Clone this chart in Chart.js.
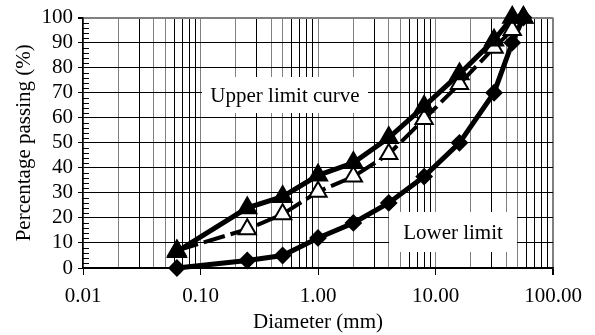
<!DOCTYPE html>
<html>
<head>
<meta charset="utf-8">
<script src="https://cdn.jsdelivr.net/npm/chart.js@4"></script>
<style>
  body { margin: 0; background: #fff; }
</style>
</head>
<body>
<canvas id="chart" width="595" height="335"></canvas>
<script>
// sieve sizes (mm) and passing percentages
const sizes = [0.063, 0.25, 0.5, 1, 2, 4, 8, 16, 31.5, 45, 56];
const upperLimit = [6.5, 24, 28.5, 37, 42, 52, 64.5, 77.5, 91, 100, 100];
const middleCurve = [7, 15.5, 21.5, 30.5, 36.5, 45.5, 59.5, 73.5, 88, 95, 100];
const lowerLimit = [0, 3, 5, 12, 18, 26, 36.5, 50, 70, 90, 100];

// axis ticks
const decades = [0.01, 0.1, 1, 10];
const multipliers = [1, 2, 3, 4, 5, 6, 7, 8, 9];
const grayMultipliers = [1, 2, 4, 5];
const yTicks = [0, 10, 20, 30, 40, 50, 60, 70, 80, 90, 100];

const FONT = "'Liberation Serif', 'Times New Roman', serif";

const xGrid = [];
decades.forEach((d) => multipliers.forEach((m) => xGrid.push(+(d * m).toPrecision(3))));
xGrid.push(100);

function isDecade(v) {
  const l = Math.log10(v);
  return Math.abs(l - Math.round(l)) < 1e-9;
}
function multiplierOf(v) {
  return Math.round(v / Math.pow(10, Math.floor(Math.log10(v) + 1e-9)));
}

const toPoints = (vals) => sizes.map((s, i) => ({ x: s, y: vals[i] }));

// white boxes with labels, drawn over the grid
const labelBoxes = {
  id: "labelBoxes",
  beforeDatasetsDraw(chart) {
    const ctx = chart.ctx;
    const boxes = [
      { text: "Upper limit curve", x: 202, y: 77, w: 166, h: 36 },
      { text: "Lower limit", x: 389, y: 212, w: 128, h: 40 },
    ];
    ctx.save();
    // minor ticks on y axis (inside)
    const ys = chart.scales.y;
    ctx.strokeStyle = "#000";
    ctx.lineWidth = 1;
    for (let v = 2; v < 100; v += 2) {
      if (v % 10 === 0) continue;
      const py = Math.round(ys.getPixelForValue(v)) + 0.5;
      ctx.beginPath();
      ctx.moveTo(ys.right, py);
      ctx.lineTo(ys.right + 6, py);
      ctx.stroke();
    }
    boxes.forEach((b) => {
      ctx.fillStyle = "#fff";
      ctx.fillRect(b.x, b.y, b.w, b.h);
      ctx.fillStyle = "#000";
      ctx.font = "21px " + FONT;
      ctx.textAlign = "center";
      ctx.textBaseline = "middle";
      ctx.fillText(b.text, b.x + b.w / 2, b.y + b.h / 2 + 1);
    });
    ctx.restore();
  },
};

const ctx = document.getElementById("chart").getContext("2d");
new Chart(ctx, {
  type: "line",
  data: {
    datasets: [
      {
        label: "Upper limit",
        data: toPoints(upperLimit),
        borderColor: "#000",
        borderWidth: 5,
        pointStyle: "triangle",
        pointRadius: 10.5,
        pointBorderWidth: 2,
        pointBackgroundColor: "#000",
        pointBorderColor: "#000",
        clip: false,
        order: 1,
      },
      {
        label: "Middle",
        data: toPoints(middleCurve),
        borderColor: "#000",
        borderWidth: 4,
        borderDash: [22, 6],
        pointStyle: "triangle",
        pointRadius: 10,
        pointBorderWidth: 2,
        pointBackgroundColor: "#fff",
        pointBorderColor: "#000",
        clip: false,
        order: 2,
      },
      {
        label: "Lower limit",
        data: toPoints(lowerLimit),
        borderColor: "#000",
        borderWidth: 5,
        pointStyle: "rectRot",
        pointRadius: 7.5,
        pointBorderWidth: 2,
        pointBackgroundColor: "#000",
        pointBorderColor: "#000",
        clip: false,
        order: 3,
      },
    ],
  },
  options: {
    responsive: false,
    animation: false,
    layout: { padding: { left: 0, right: 42, top: 16, bottom: 0 } },
    plugins: { legend: { display: false }, tooltip: { enabled: false } },
    scales: {
      x: {
        type: "logarithmic",
        min: 0.01,
        max: 100,
        afterBuildTicks: (scale) => {
          scale.ticks = xGrid.map((v) => ({ value: v }));
        },
        afterFit: (scale) => {
          scale.height = 67;
        },
        ticks: {
          autoSkip: false,
          maxRotation: 0,
          padding: 9,
          color: "#000",
          font: { family: FONT, size: 21 },
          callback: (v) => (isDecade(v) ? Number(v).toFixed(2) : ""),
        },
        grid: {
          color: (c) =>
            c.tick && grayMultipliers.includes(multiplierOf(c.tick.value)) ? "#808080" : "#000",
          lineWidth: (c) => (c.tick && c.tick.value === 100 ? 2 : 1),
          tickColor: (c) => (c.tick && isDecade(c.tick.value) ? "#000" : "rgba(0,0,0,0)"),
          tickLength: 7,
        },
        border: { color: "#000", width: 1.5 },
        title: {
          display: true,
          text: "Diameter (mm)",
          color: "#000",
          font: { family: FONT, size: 21 },
          padding: { top: 0, bottom: 0 },
        },
      },
      y: {
        min: 0,
        max: 100,
        afterBuildTicks: (scale) => {
          scale.ticks = yTicks.map((v) => ({ value: v }));
        },
        afterFit: (scale) => {
          scale.width = 83;
        },
        ticks: {
          autoSkip: false,
          padding: 5,
          color: "#000",
          font: { family: FONT, size: 21 },
        },
        grid: {
          color: (c) => (c.tick && c.tick.value === 100 ? "#808080" : "#000"),
          lineWidth: (c) => (c.tick && c.tick.value === 100 ? 2 : 1),
          tickColor: "#000",
          tickLength: 5,
        },
        border: { color: "#000", width: 1.5 },
        title: {
          display: true,
          text: "Percentage passing (%)",
          color: "#000",
          font: { family: FONT, size: 21 },
          padding: { top: 12, bottom: 0 },
        },
      },
    },
  },
  plugins: [labelBoxes],
});
</script>
</body>
</html>
